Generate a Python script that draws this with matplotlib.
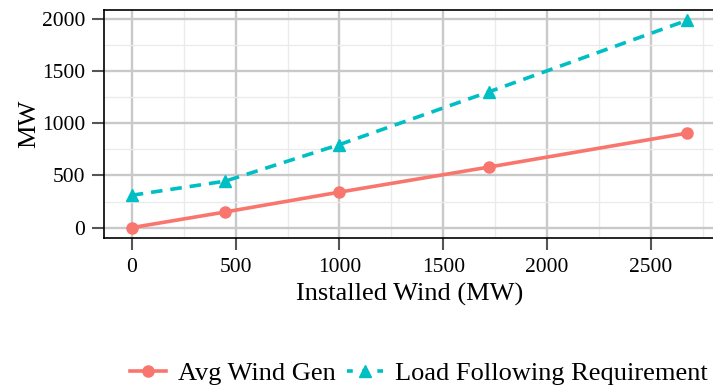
import matplotlib
matplotlib.use("Agg")
import matplotlib.pyplot as plt
from matplotlib.ticker import MultipleLocator
from matplotlib.lines import Line2D

plt.rcParams['font.family'] = ['Liberation Serif', 'DejaVu Serif']

installed_wind = [0, 450, 1000, 1720, 2675]
avg_wind_gen = [0, 150, 340, 580, 905]
load_following = [310, 445, 795, 1300, 1985]
series_names = ["Avg Wind Gen", "Load Following Requirement"]
x_ticks = [0, 500, 1000, 1500, 2000, 2500]
y_ticks = [0, 500, 1000, 1500, 2000]

red = "#F8766D"
cyan = "#00BFC4"

fig = plt.figure(figsize=(7.13, 3.87), dpi=100)
ax = fig.add_axes([104/713, 1-238/387, (715-104)/713, (238-10)/387])

ax.set_xlim(-133.75, 2808.75)
ax.set_ylim(-99, 2083)

ax.set_xticks(x_ticks)
ax.set_yticks(y_ticks)
ax.xaxis.set_minor_locator(MultipleLocator(250))
ax.yaxis.set_minor_locator(MultipleLocator(250))
ax.grid(which='major', color='#C9C9C9', linewidth=1.7)
ax.grid(which='minor', color='#EBEBEB', linewidth=1.0)
ax.set_axisbelow(True)
for s in ax.spines.values():
    s.set_color('black')
    s.set_linewidth(1.2)
ax.tick_params(which='major', length=8.5, width=1.5, color='#555555', labelsize=15.5,
               labelcolor='black', pad=6)
ax.tick_params(axis='y', which='major', pad=5)
ax.tick_params(which='minor', length=0)

ax.plot(installed_wind, avg_wind_gen, color=red, linewidth=2.6, marker='o', markersize=8,
        label=series_names[0], clip_on=False, zorder=3)
ax.plot(installed_wind, load_following, color=cyan, linewidth=2.6, linestyle=(0, (3.2, 2.2)),
        marker='^', markersize=9, label=series_names[1], clip_on=False, zorder=3)

ax.set_xlabel("Installed Wind (MW)", fontsize=19, labelpad=4)
ax.set_ylabel("MW", fontsize=19, labelpad=1)

handles = [
    Line2D([], [], color=red, linewidth=2.6, marker='o', markersize=8),
    Line2D([], [], color=cyan, linewidth=2.6, linestyle=(0, (1.6, 2.6)), marker='^', markersize=9),
]
fig.legend(handles, series_names, loc='center', bbox_to_anchor=(419/713, 1-373/387), ncol=2,
           frameon=False, fontsize=19, handlelength=1.37, handletextpad=0.45, columnspacing=0.42,
           borderaxespad=0, borderpad=0)

fig.savefig("out.png", dpi=100)
